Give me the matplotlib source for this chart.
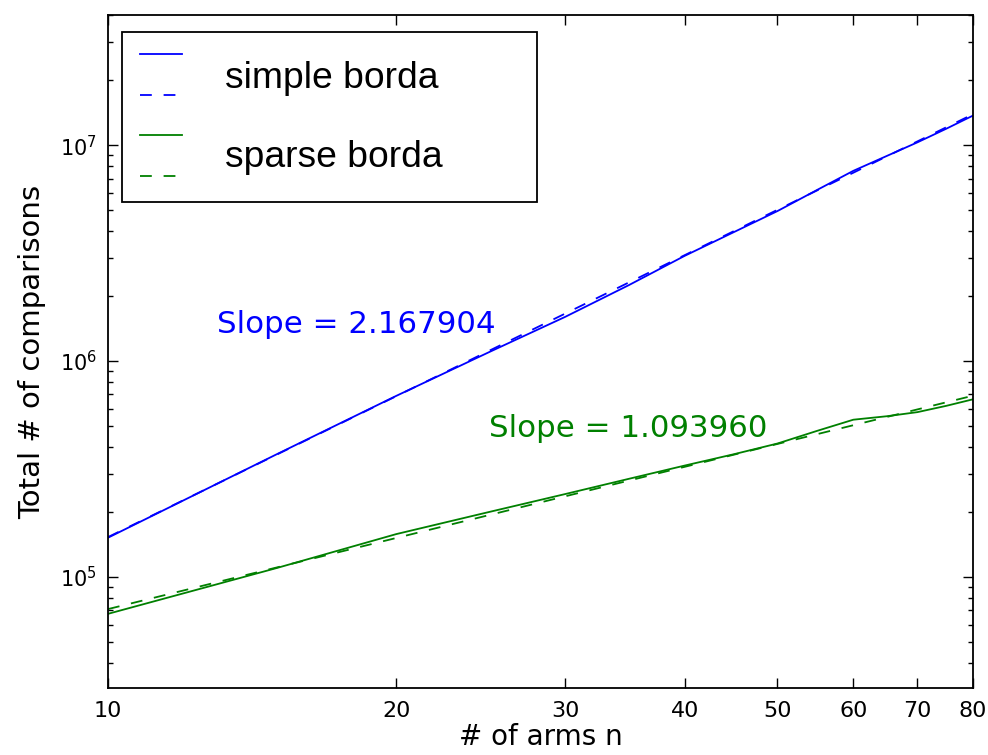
import numpy as np
import matplotlib
matplotlib.use('Agg')
import matplotlib.pyplot as plt
from matplotlib.lines import Line2D
from matplotlib.legend_handler import HandlerLine2D
from matplotlib.ticker import ScalarFormatter, NullLocator, LogLocator

################################### Data ###################################

n_arms = [10, 15, 20, 25, 30, 35, 40, 45, 50, 55, 60, 65, 70, 75, 80]

# total comparisons
simple_cmp = [1.52e5, 3.70e5, 6.90e5, 1.10e6, 1.60e6, 2.25e6, 3.07e6, 3.95e6,
              4.95e6, 6.20e6, 7.60e6, 8.90e6, 1.03e7, 1.19e7, 1.37e7]
sparse_cmp = [6.75e4, 1.10e5, 1.58e5, 2.00e5, 2.42e5, 2.85e5, 3.28e5, 3.70e5,
              4.15e5, 4.75e5, 5.35e5, 5.55e5, 5.80e5, 6.20e5, 6.65e5]

# fitted lines (straight in log-log), end points
fit_n = [10, 80]
simple_fit = [1.53e5, 1.39e7]
sparse_fit = [7.10e4, 6.91e5]

simple_slope = 2.167904
sparse_slope = 1.093960

x_ticks = [10, 20, 30, 40, 50, 60, 70, 80]

################################### Plotting ###################################

plt.rcParams['lines.scale_dashes'] = False
plt.rcParams['lines.dashed_pattern'] = [8.5, 8.5]

fig = plt.figure(figsize=(9.88, 7.55), dpi=100)
ax = fig.add_axes([0.1093, 0.0887, 0.8755, 0.8913])

ax.plot(n_arms, simple_cmp, color='b', lw=1.3, label=' ')
ax.plot(fit_n, simple_fit, color='b', lw=1.3, ls='--', label=' ')
ax.plot(n_arms, sparse_cmp, color='g', lw=1.3, label=' ')
ax.plot(fit_n, sparse_fit, color='g', lw=1.3, ls='--', label=' ')

ax.set_xscale('log')
ax.set_yscale('log')
ax.set_xlim(10, 80)
ax.set_ylim(3.06e4, 4.0e7)

ax.set_xticks(x_ticks)
ax.xaxis.set_major_formatter(ScalarFormatter())
ax.xaxis.set_minor_locator(NullLocator())
ax.yaxis.set_major_locator(LogLocator(base=10))
ax.yaxis.set_minor_locator(LogLocator(base=10, subs=np.arange(2, 10)))

ax.tick_params(which='both', direction='in', top=True, right=True)
ax.tick_params(which='major', length=7, width=1)
ax.tick_params(which='minor', length=3.5, width=1)
ax.tick_params(axis='x', labelsize=16, pad=9)
ax.tick_params(axis='y', labelsize=15, pad=8)
for sp in ax.spines.values():
    sp.set_linewidth(1.3)

ax.set_xlabel('# of arms n', fontsize=20, labelpad=2)
ax.set_ylabel('Total # of comparisons', fontsize=21, labelpad=10)

ax.text(0.126, 0.5275, 'Slope = %f' % simple_slope, color='b', fontsize=22.2,
        transform=ax.transAxes, va='baseline')
ax.text(0.4405, 0.373, 'Slope = %f' % sparse_slope, color='g', fontsize=22.2,
        transform=ax.transAxes, va='baseline')

leg = ax.legend(loc='upper left', bbox_to_anchor=(0.0162, 0.0, 0.48, 0.9747),
                mode='expand', borderaxespad=0, fontsize=20, labelspacing=0.45,
                handlelength=1.8, borderpad=0.36, fancybox=False, framealpha=1,
                handler_map={Line2D: HandlerLine2D(xpad=0.29)})
leg.get_frame().set_edgecolor('k')
leg.get_frame().set_linewidth(1.3)

ax.text(0.1353, 0.8915, 'simple borda', fontsize=26.8, family='Liberation Sans',
        transform=ax.transAxes, va='baseline', zorder=10)
ax.text(0.1353, 0.7741, 'sparse borda', fontsize=26.8, family='Liberation Sans',
        transform=ax.transAxes, va='baseline', zorder=10)

plt.savefig('out.png', dpi=100, facecolor='white')
